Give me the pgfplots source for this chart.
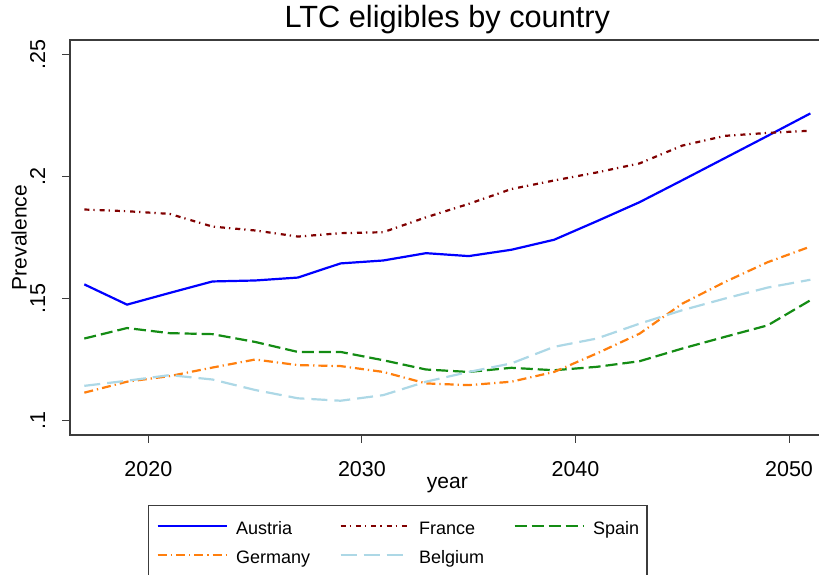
\documentclass[border=0pt]{standalone}
\usepackage{pgfplots}
\pgfplotsset{compat=1.18}
\usepackage{fontspec}
\setmainfont{Liberation Sans}
\definecolor{cAustria}{RGB}{0,0,255}
\definecolor{cFrance}{RGB}{128,0,0}
\definecolor{cSpain}{RGB}{20,140,20}
\definecolor{cGermany}{RGB}{255,127,14}
\definecolor{cBelgium}{RGB}{173,216,230}
\definecolor{frame}{RGB}{60,60,60}
\begin{document}
\begin{tikzpicture}
\begin{axis}[
  scale only axis,
  width=754.7pt, height=395pt,
  at={(70pt,140pt)}, anchor=south west,
  xmin=2016.33, xmax=2051.67,
  ymin=0.09415, ymax=0.2561,
  axis line style={frame, line width=1.5pt},
  xtick={2020,2030,2040,2050},
  xticklabels={2020,2030,2040,2050},
  ytick={0.1,0.15,0.2,0.25},
  yticklabels={.1,.15,.2,.25},
  xtick pos=lower, ytick pos=left,
  tick align=outside,
  major tick length=8pt,
  tick style={frame, line width=1pt},
  /pgf/number format/assume math mode=true,
  xticklabel style={font=\fontsize{21.5}{24}\selectfont, anchor=base, inner sep=0pt, yshift=-33.3pt},
  yticklabel style={font=\fontsize{21.5}{24}\selectfont, rotate=90, anchor=base, inner sep=0pt, yshift=17pt},
  title={LTC eligibles by country},
  title style={font=\fontsize{30.7}{34}\selectfont, at={(axis description cs:0.5,1)}, anchor=base, inner sep=0pt, yshift=6pt},
  xlabel={year},
  xlabel style={font=\fontsize{21}{24}\selectfont, at={(axis description cs:0.5,0)}, anchor=base, inner sep=0pt, yshift=-53.3pt},
  ylabel={Prevalence},
  ylabel style={font=\fontsize{21}{24}\selectfont, at={(axis description cs:0,0.5)}, anchor=base, inner sep=0pt, yshift=43.3pt},
  legend columns=3,
  legend image code/.code={\draw[#1] (0pt,8.6pt) -- (69pt,8.6pt);},
  legend style={
    at={(axis description cs:0,0)}, anchor=north west,
    xshift=78pt, yshift=-70pt,
    draw=frame, line width=1.2pt,
    inner xsep=8pt, inner ysep=16.3pt,
    font=\fontsize{18}{21}\selectfont,
    cells={anchor=base west},
    nodes={inner sep=0pt, text height=13pt, text depth=4pt},
    /tikz/every odd column/.append style={column sep=8.4pt},
    /tikz/every even column/.append style={column sep=29.3pt},
    /tikz/row sep=12pt,
  },
]
\addplot[cAustria, line width=2.2pt] coordinates {
(2017,.1559) (2019,.1476) (2021,.1524) (2023,.1571) (2025,.1575) (2027,.1587)
(2029,.1645) (2031,.1657) (2033,.1687) (2035,.1675) (2037,.1701) (2039,.1742)
(2041,.1818) (2043,.1896) (2045,.1986) (2047,.2077) (2049,.2168) (2051,.2260)};
\addlegendentry{Austria}
\addplot[cFrance, line width=2.2pt, dash pattern=on 5pt off 4pt on 1.3pt off 5pt] coordinates {
(2017,.1866) (2019,.1859) (2021,.1848) (2023,.1796) (2025,.1780) (2027,.1755)
(2029,.1769) (2031,.1773) (2033,.1834) (2035,.1889) (2037,.1950) (2039,.1985)
(2041,.2018) (2043,.2055) (2045,.2128) (2047,.2168) (2049,.2180) (2051,.2189)};
\addlegendentry{France}
\addplot[cSpain, line width=2.2pt, dash pattern=on 12pt off 5pt] coordinates {
(2017,.1337) (2019,.1380) (2021,.1359) (2023,.1355) (2025,.1323) (2027,.1282)
(2029,.1282) (2031,.1248) (2033,.1210) (2035,.1200) (2037,.1217) (2039,.1207)
(2041,.1221) (2043,.1244) (2045,.1296) (2047,.1344) (2049,.1391) (2051,.1494)};
\addlegendentry{Spain}
\addplot[cGermany, line width=2.2pt, dash pattern=on 9pt off 4pt on 1.3pt off 4pt] coordinates {
(2017,.1115) (2019,.1160) (2021,.1183) (2023,.1218) (2025,.1251) (2027,.1228)
(2029,.1224) (2031,.1200) (2033,.1153) (2035,.1146) (2037,.1160) (2039,.1200)
(2041,.1276) (2043,.1357) (2045,.1480) (2047,.1569) (2049,.1650) (2051,.1714)};
\addlegendentry{Germany}
\addplot[cBelgium, line width=2.2pt, dash pattern=on 16pt off 7pt] coordinates {
(2017,.1143) (2019,.1164) (2021,.1187) (2023,.1169) (2025,.1126) (2027,.1092)
(2029,.1082) (2031,.1105) (2033,.1160) (2035,.1200) (2037,.1235) (2039,.1303)
(2041,.1337) (2043,.1398) (2045,.1453) (2047,.1501) (2049,.1546) (2051,.1578)};
\addlegendentry{Belgium}
\end{axis}
\pgfresetboundingbox
\path[use as bounding box] (0pt,0pt) rectangle (819pt,575pt);
\end{tikzpicture}
\end{document}
